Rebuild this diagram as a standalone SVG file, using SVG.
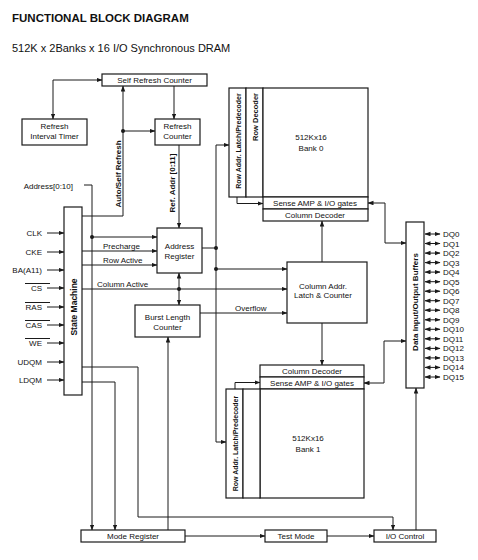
<svg xmlns="http://www.w3.org/2000/svg" width="478" height="560" viewBox="0 0 478 560">
<defs>
<marker id="ah" markerWidth="6" markerHeight="5" refX="5.5" refY="2.25" orient="auto-start-reverse" markerUnits="userSpaceOnUse"><path d="M0,0 L6,2.25 L0,4.5 z" fill="#1a1a1a"/></marker>
<style>
.bx{fill:#fff;stroke:#1a1a1a;stroke-width:1.2}
.ln{fill:none;stroke:#1a1a1a;stroke-width:1}
.a{marker-end:url(#ah)}
.aa{marker-start:url(#ah);marker-end:url(#ah)}
.t{font-family:"Liberation Sans",Arial,sans-serif;font-size:8px;fill:#111}
.c{text-anchor:middle}
.r{text-anchor:end}
.b{font-weight:bold}
.dot{fill:#1a1a1a}
</style>
</defs>
<rect width="478" height="560" fill="#fff"/>
<text class="t b" x="12" y="22" style="font-size:11.5px">FUNCTIONAL BLOCK DIAGRAM</text>
<text class="t" x="12" y="52" style="font-size:11px">512K x 2Banks x 16 I/O Synchronous DRAM</text>

<g id="connectors">
<polyline class="ln aa" points="53,119 53,80 102,80"/>
<line class="ln a" x1="174" y1="86" x2="174" y2="119"/>
<polyline class="ln a" points="82,216 123,216 123,86"/>
<line class="ln a" x1="123" y1="131" x2="155" y2="131"/>
<circle class="dot" cx="123" cy="131" r="2"/>
<line class="ln a" x1="179" y1="145" x2="179" y2="228"/>
<polyline class="ln a" points="84,185 92,185 92,530"/>
<line class="ln a" x1="92" y1="237" x2="157" y2="237"/>
<circle class="dot" cx="92" cy="237" r="2"/>
<line class="ln a" x1="82" y1="251" x2="157" y2="251"/>
<line class="ln a" x1="82" y1="265" x2="157" y2="265"/>
<line class="ln a" x1="82" y1="289" x2="287" y2="289"/>
<circle class="dot" cx="179" cy="289" r="2"/>
<line class="ln aa" x1="179" y1="273" x2="179" y2="305"/>
<line class="ln a" x1="200" y1="313" x2="287" y2="313"/>
<line class="ln a" x1="168" y1="530" x2="168" y2="337"/>
<polyline class="ln a" points="82,367 138,367 138,517 393,517 393,530"/>
<polyline class="ln a" points="82,382 115,382 115,530"/>
<line class="ln a" x1="185" y1="536" x2="265" y2="536"/>
<line class="ln a" x1="327" y1="536" x2="374" y2="536"/>
<line class="ln a" x1="416" y1="530" x2="416" y2="388"/>
<line class="ln" x1="202" y1="248" x2="216" y2="248"/>
<circle class="dot" cx="216" cy="248" r="2"/>
<polyline class="ln aa" points="229,145 216,145 216,442 226,442"/>
<line class="ln a" x1="216" y1="269" x2="287" y2="269"/>
<circle class="dot" cx="216" cy="269" r="2"/>
<polyline class="ln a" points="237,197 237,203.5 263,203.5"/>
<polyline class="ln a" points="235,389 235,382.5 260,382.5"/>
<line class="ln a" x1="322" y1="262" x2="322" y2="221"/>
<line class="ln a" x1="322" y1="323" x2="322" y2="365"/>
<polyline class="ln aa" points="368,203 385,203 385,243 406,243"/>
<polyline class="ln aa" points="406,341 384,341 384,383 364,383"/>
<line class="ln a" x1="47" y1="233" x2="64" y2="233"/>
<line class="ln a" x1="47" y1="252" x2="64" y2="252"/>
<line class="ln a" x1="47" y1="270" x2="64" y2="270"/>
<line class="ln a" x1="47" y1="288" x2="64" y2="288"/>
<line class="ln a" x1="47" y1="307" x2="64" y2="307"/>
<line class="ln a" x1="47" y1="325" x2="64" y2="325"/>
<line class="ln a" x1="47" y1="343" x2="64" y2="343"/>
<line class="ln a" x1="47" y1="362" x2="64" y2="362"/>
<line class="ln a" x1="47" y1="380" x2="64" y2="380"/>
<g id="dq-arrows">
<line class="ln aa" x1="425" y1="234" x2="440" y2="234"/>
<line class="ln aa" x1="425" y1="243.5" x2="440" y2="243.5"/>
<line class="ln aa" x1="425" y1="253.1" x2="440" y2="253.1"/>
<line class="ln aa" x1="425" y1="262.6" x2="440" y2="262.6"/>
<line class="ln aa" x1="425" y1="272.1" x2="440" y2="272.1"/>
<line class="ln aa" x1="425" y1="281.7" x2="440" y2="281.7"/>
<line class="ln aa" x1="425" y1="291.2" x2="440" y2="291.2"/>
<line class="ln aa" x1="425" y1="300.7" x2="440" y2="300.7"/>
<line class="ln aa" x1="425" y1="310.2" x2="440" y2="310.2"/>
<line class="ln aa" x1="425" y1="319.8" x2="440" y2="319.8"/>
<line class="ln aa" x1="425" y1="329.3" x2="440" y2="329.3"/>
<line class="ln aa" x1="425" y1="338.8" x2="440" y2="338.8"/>
<line class="ln aa" x1="425" y1="348.4" x2="440" y2="348.4"/>
<line class="ln aa" x1="425" y1="357.9" x2="440" y2="357.9"/>
<line class="ln aa" x1="425" y1="367.4" x2="440" y2="367.4"/>
<line class="ln aa" x1="425" y1="377" x2="440" y2="377"/>
</g>
</g>

<g id="labels">
<text class="t r" x="73" y="189">Address[0:10]</text>
<text class="t" x="103" y="249">Precharge</text>
<text class="t" x="103" y="263">Row Active</text>
<text class="t" x="97" y="287">Column Active</text>
<text class="t" x="235" y="311">Overflow</text>
<text class="t b c" transform="translate(121,174) rotate(-90)">Auto/Self Refresh</text>
<text class="t b c" transform="translate(175,183) rotate(-90)">Ref. Addr [0:11]</text>
<text class="t r" x="42" y="236">CLK</text>
<text class="t r" x="42" y="255">CKE</text>
<text class="t r" x="42" y="273">BA(A11)</text>
<text class="t r" x="42" y="291">CS</text>
<text class="t r" x="42" y="310">RAS</text>
<text class="t r" x="42" y="328">CAS</text>
<text class="t r" x="42" y="346">WE</text>
<text class="t r" x="42" y="365">UDQM</text>
<text class="t r" x="42" y="383">LDQM</text>
<line class="ln" x1="25" y1="283.5" x2="50" y2="283.5"/>
<line class="ln" x1="25" y1="302.5" x2="50" y2="302.5"/>
<line class="ln" x1="25" y1="320.5" x2="50" y2="320.5"/>
<line class="ln" x1="25" y1="338.5" x2="50" y2="338.5"/>
<text class="t" x="443" y="237">DQ0</text>
<text class="t" x="443" y="246.5">DQ1</text>
<text class="t" x="443" y="256.1">DQ2</text>
<text class="t" x="443" y="265.6">DQ3</text>
<text class="t" x="443" y="275.1">DQ4</text>
<text class="t" x="443" y="284.7">DQ5</text>
<text class="t" x="443" y="294.2">DQ6</text>
<text class="t" x="443" y="303.7">DQ7</text>
<text class="t" x="443" y="313.2">DQ8</text>
<text class="t" x="443" y="322.8">DQ9</text>
<text class="t" x="443" y="332.3">DQ10</text>
<text class="t" x="443" y="341.8">DQ11</text>
<text class="t" x="443" y="351.4">DQ12</text>
<text class="t" x="443" y="360.9">DQ13</text>
<text class="t" x="443" y="370.4">DQ14</text>
<text class="t" x="443" y="380">DQ15</text>
</g>

<g id="self-refresh-counter"><rect class="bx" x="102" y="74" width="105" height="12"/><text class="t c" x="154.5" y="83">Self Refresh Counter</text></g>
<g id="refresh-interval-timer"><rect class="bx" x="22" y="119" width="65" height="26"/><text class="t c" x="54.5" y="129">Refresh</text><text class="t c" x="54.5" y="138.5">Interval Timer</text></g>
<g id="refresh-counter"><rect class="bx" x="155" y="119" width="45" height="26"/><text class="t c" x="177.5" y="129">Refresh</text><text class="t c" x="177.5" y="138.5">Counter</text></g>
<g id="state-machine"><rect class="bx" x="64" y="207" width="18" height="188"/><text class="t b c" transform="translate(76.5,307) rotate(-90)" style="font-size:8.5px">State Machine</text></g>
<g id="address-register"><rect class="bx" x="157" y="228" width="45" height="45"/><text class="t c" x="179.5" y="249">Address</text><text class="t c" x="179.5" y="258.5">Register</text></g>
<g id="burst-length-counter"><rect class="bx" x="135" y="305" width="65" height="32"/><text class="t c" x="167.5" y="320">Burst Length</text><text class="t c" x="167.5" y="329.5">Counter</text></g>
<g id="column-addr-latch"><rect class="bx" x="287" y="262" width="80" height="61"/><text class="t c" x="323" y="288.5">Column Addr.</text><text class="t c" x="323" y="297.5">Latch &amp; Counter</text></g>
<g id="bank0">
<rect class="bx" x="229" y="88" width="17" height="109"/>
<rect class="bx" x="246" y="88" width="17" height="109"/>
<rect class="bx" x="263" y="88" width="105" height="109"/>
<rect class="bx" x="263" y="197" width="105" height="12"/>
<rect class="bx" x="263" y="209" width="105" height="12"/>
<text class="t b c" transform="translate(240.5,141) rotate(-90)" style="font-size:7px">Row Addr. Latch/Predecoder</text>
<text class="t b r" transform="translate(257.5,93) rotate(-90)" style="font-size:7.5px">Row Decoder</text>
<text class="t c" x="311" y="140">512Kx16</text>
<text class="t c" x="311" y="151">Bank 0</text>
<text class="t c" x="315" y="206">Sense AMP &amp; I/O gates</text>
<text class="t c" x="315" y="218">Column Decoder</text>
</g>
<g id="bank1">
<rect class="bx" x="260" y="365" width="104" height="12"/>
<rect class="bx" x="260" y="377" width="104" height="12"/>
<rect class="bx" x="260" y="389" width="104" height="109"/>
<rect class="bx" x="226" y="389" width="17" height="109"/>
<rect class="bx" x="243" y="389" width="17" height="109"/>
<text class="t c" x="312" y="374">Column Decoder</text>
<text class="t c" x="312" y="386">Sense AMP &amp; I/O gates</text>
<text class="t b c" transform="translate(237.5,443.5) rotate(-90)" style="font-size:7px">Row Addr. Latch/Predecoder</text>
<text class="t c" x="308" y="441">512Kx16</text>
<text class="t c" x="308" y="452">Bank 1</text>
</g>
<g id="data-io-buffers"><rect class="bx" x="406" y="222" width="18" height="166"/><text class="t b c" transform="translate(418,302) rotate(-90)">Data Input/Output Buffers</text></g>
<g id="mode-register"><rect class="bx" x="81" y="530" width="104" height="12"/><text class="t c" x="133" y="539">Mode Register</text></g>
<g id="test-mode"><rect class="bx" x="265" y="530" width="62" height="12"/><text class="t c" x="296" y="539">Test Mode</text></g>
<g id="io-control"><rect class="bx" x="374" y="530" width="62" height="12"/><text class="t c" x="405" y="539">I/O Control</text></g>
</svg>
